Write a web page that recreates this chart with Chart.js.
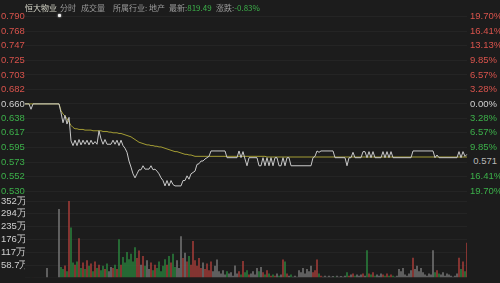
<!DOCTYPE html>
<html>
<head>
<meta charset="utf-8">
<script src="https://cdn.jsdelivr.net/npm/chart.js@4.4.1/dist/chart.umd.min.js"></script>
<style>
  html, body { margin: 0; padding: 0; background: #1c1c1c; }
  #wrap { position: relative; width: 500px; height: 283px; overflow: hidden; background: #1c1c1c; }
  .box { position: absolute; left: 0; width: 500px; }
  #priceBox { top: 0; height: 200px; }
  #volBox { top: 190px; height: 93px; }
  .hd { position: absolute; top: 2px; font: 8px "Noto Sans CJK SC", sans-serif; color: #9a9a9a; white-space: nowrap; line-height: 11px; }
  .up { color: #3cb04a; }
  #star { position: absolute; left: 58px; top: 14px; width: 3px; height: 3px; background: #f0f0f0; border-radius: 1px; box-shadow: 0 0 2px #fff; }
  #last { position: absolute; left: 470px; top: 154px; width: 30px; height: 14px; background: #1c1c1c;
          font: 9.5px "Liberation Sans", sans-serif; color: #b8b8b8; line-height: 14px; text-align: right; padding-right: 3px; box-sizing: border-box; }
</style>
</head>
<body>
<div id="wrap">
  <div class="box" id="priceBox"><canvas id="priceChart" width="500" height="200"></canvas></div>
  <div class="box" id="volBox"><canvas id="volChart" width="500" height="93"></canvas></div>
  <span class="hd" style="left:25px;color:#d6d6c8">恒大物业</span>
  <span class="hd" style="left:60px">分时</span>
  <span class="hd" style="left:81px">成交量</span>
  <span class="hd" style="left:113px">所属行业: 地产</span>
  <span class="hd" style="left:169px">最新:<span class="up">819.49</span></span>
  <span class="hd" style="left:216px">涨跌:<span class="up">-0.83%</span></span>
  <div id="star"></div>
  <div id="last">0.571</div>
</div>
<script>
const prevClose = 0.660;

const priceTicks = ['0.790', '0.768', '0.747', '0.725', '0.703', '0.682', '0.660',
  '0.638', '0.617', '0.595', '0.573', '0.552', '0.530'];
const pctTicks = ['19.70%', '16.41%', '13.13%', '9.85%', '6.57%', '3.28%', '0.00%',
  '3.28%', '6.57%', '9.85%', '13.13%', '16.41%', '19.70%'];
const volTicks = ['352万', '294万', '235万', '176万', '117万', '58.7万'];
const volTickValues = [352, 293.5, 234.8, 176.1, 117.4, 58.7];

const prices = [
  0.660, 0.660, 0.660, 0.652, 0.660, 0.660, 0.660, 0.660, 0.660, 0.660,
  0.660, 0.660, 0.660, 0.660, 0.660, 0.660, 0.660, 0.660,
  0.647, 0.632, 0.643, 0.630, 0.640, 0.605, 0.598,
  0.606, 0.598, 0.607, 0.599, 0.606, 0.600, 0.606, 0.599, 0.606, 0.600, 0.604, 0.600,
  0.620, 0.608, 0.600, 0.607, 0.600, 0.600, 0.600, 0.606, 0.600, 0.606, 0.598, 0.606, 0.598,
  0.594, 0.588, 0.575, 0.566, 0.556, 0.550, 0.556, 0.562, 0.562, 0.568,
  0.563, 0.563, 0.563, 0.568, 0.562, 0.563, 0.560, 0.556, 0.550, 0.546,
  0.538, 0.546, 0.538, 0.546, 0.540, 0.538, 0.538, 0.538, 0.538, 0.546,
  0.546, 0.553, 0.548, 0.556, 0.558, 0.560, 0.570, 0.571, 0.575, 0.575,
  0.578, 0.580, 0.582, 0.590, 0.590, 0.590, 0.590, 0.590, 0.590, 0.590,
  0.590, 0.580, 0.580, 0.580, 0.580, 0.580, 0.580, 0.590, 0.580, 0.589,
  0.578, 0.568, 0.580, 0.580, 0.580, 0.580, 0.580, 0.568, 0.568, 0.580,
  0.568, 0.580, 0.568, 0.580, 0.568, 0.580, 0.580, 0.568, 0.568, 0.580,
  0.568, 0.580, 0.580, 0.568, 0.568, 0.568, 0.568, 0.568, 0.568, 0.568,
  0.568, 0.568, 0.568, 0.568, 0.580, 0.582, 0.590, 0.588, 0.590, 0.590,
  0.590, 0.590, 0.590, 0.590, 0.590, 0.580, 0.580, 0.580, 0.580, 0.580,
  0.580, 0.568, 0.580, 0.580, 0.588, 0.580, 0.580, 0.580, 0.580, 0.589,
  0.589, 0.580, 0.589, 0.580, 0.589, 0.580, 0.580, 0.580, 0.580, 0.589,
  0.580, 0.589, 0.580, 0.589, 0.580, 0.580, 0.580, 0.580, 0.580, 0.580,
  0.580, 0.580, 0.580, 0.580, 0.590, 0.590, 0.590, 0.590, 0.590, 0.590,
  0.590, 0.590, 0.590, 0.590, 0.590, 0.580, 0.584, 0.580, 0.580, 0.580,
  0.580, 0.580, 0.580, 0.580, 0.580, 0.580, 0.580, 0.589, 0.580, 0.589,
  0.582, 0.585
];

const avgPrices = [
  0.660, 0.660, 0.660, 0.660, 0.660, 0.660, 0.660, 0.660, 0.660, 0.660,
  0.660, 0.660, 0.660, 0.660, 0.660, 0.660, 0.660, 0.660,
  0.650, 0.645, 0.642, 0.638, 0.633, 0.628, 0.625,
  0.623, 0.623, 0.622, 0.622, 0.622, 0.621, 0.621,
  0.621, 0.621, 0.620, 0.620, 0.620, 0.620,
  0.620, 0.619, 0.619, 0.619, 0.618, 0.618, 0.617, 0.617, 0.617, 0.616,
  0.616, 0.615, 0.614, 0.613, 0.612,
  0.611, 0.609, 0.607, 0.605, 0.603, 0.602, 0.601,
  0.600, 0.599, 0.599, 0.598, 0.598, 0.597, 0.597, 0.596, 0.596, 0.595,
  0.594, 0.593, 0.592, 0.591, 0.590, 0.589, 0.589, 0.588,
  0.587, 0.586, 0.585, 0.585, 0.584, 0.584, 0.583,
  0.582, 0.582, 0.582, 0.582, 0.582, 0.582, 0.582, 0.582, 0.582, 0.582,
  0.582, 0.582, 0.582, 0.582, 0.582, 0.582, 0.582, 0.582, 0.582, 0.582,
  0.582, 0.582, 0.582, 0.582, 0.582, 0.582, 0.582, 0.582, 0.582, 0.582,
  0.582, 0.582, 0.582, 0.582, 0.582, 0.582,
  0.581, 0.581, 0.581, 0.581, 0.581, 0.581, 0.581, 0.581, 0.581, 0.581,
  0.581, 0.581, 0.581, 0.581, 0.581, 0.581, 0.581, 0.581, 0.581, 0.581,
  0.581, 0.581, 0.581, 0.581, 0.581, 0.581, 0.581, 0.581, 0.581, 0.581,
  0.581, 0.581, 0.581, 0.581, 0.581, 0.581, 0.581, 0.581, 0.581, 0.581,
  0.581, 0.581, 0.581, 0.581, 0.581, 0.581, 0.581, 0.581, 0.581, 0.581,
  0.581, 0.581, 0.581, 0.581, 0.581, 0.581, 0.581, 0.581, 0.581, 0.581,
  0.581, 0.581, 0.581, 0.581, 0.581, 0.581, 0.581, 0.581, 0.581, 0.581,
  0.581, 0.581, 0.581, 0.581, 0.581, 0.581, 0.581, 0.581, 0.581, 0.581,
  0.581, 0.581, 0.581, 0.581, 0.581, 0.581, 0.581, 0.581, 0.581, 0.581,
  0.581, 0.581, 0.581, 0.581, 0.581, 0.581, 0.581, 0.581, 0.581, 0.581,
  0.581
];

// 成交量, 单位: 万
const volumes = [
  0, 0, 0, 0, 0, 0, 0, 0, 0, 0, 0,
  45,
  0, 0, 0, 0, 0,
  314, 50, 40, 56, 30, 352, 230, 70, 60, 75,
  181, 45, 70, 40, 80, 55, 65, 30, 75, 45,
  60, 35, 55, 40, 65, 30, 50, 45, 60, 40,
  176, 60, 95, 70, 118, 85, 110, 75, 140, 90,
  125, 60, 100, 55, 80, 40, 70, 35, 60, 45,
  75, 30, 55, 85, 60, 100, 70, 110, 50, 80,
  45, 190, 90, 115, 75, 100, 60, 168, 80, 55,
  90, 45, 70, 40, 65, 35, 75, 30, 55, 84,
  30, 20, 35, 15, 30, 20, 25, 10, 56, 20,
  30, 15, 77, 25, 35, 15, 20, 30, 15, 45,
  30, 50, 25, 15, 35, 20, 10, 15, 10, 20,
  10, 15, 84, 75, 20, 10, 15, 5, 10, 5,
  35, 25, 45, 20, 40, 30, 55, 25, 35, 84,
  20, 10, 5, 10, 5, 10, 5, 8, 5, 10,
  5, 8, 5, 10, 25, 10, 15, 20, 10, 15,
  10, 15, 20, 10, 126, 20, 15, 25, 10, 15,
  10, 20, 15, 10, 20, 10, 15, 10, 5, 10,
  40, 30, 45, 15, 10, 20, 35, 92, 40, 55,
  30, 45, 25, 15, 10, 20, 15, 126, 25, 35,
  20, 15, 25, 10, 20, 15, 10, 5, 10, 20,
  92, 40, 75, 30, 160
];

const RED = '#d9534c';
const GREEN = '#3cb04a';
const WHITE = '#cfcfcf';
const GRID = '#242424';
const tickFont = { family: '"Liberation Sans", sans-serif', size: 9.5 };

const labels = prices.map((_, i) => i);
const priceTickValues = priceTicks.map(Number);

function priceColor(ctx) {
  const v = ctx.tick.value;
  if (v > prevClose + 0.0001) return RED;
  if (v < prevClose - 0.0001) return GREEN;
  return WHITE;
}

function setPriceTicks(scale) {
  scale.ticks = priceTickValues.slice().reverse().map(v => ({ value: v }));
}

new Chart(document.getElementById('priceChart').getContext('2d'), {
  type: 'line',
  data: {
    labels: labels,
    datasets: [
      { data: avgPrices, borderColor: '#a39c34', borderWidth: 1, pointRadius: 0, tension: 0, order: 2 },
      { data: prices, borderColor: '#c9c9c9', borderWidth: 1, pointRadius: 0, tension: 0, order: 1 }
    ]
  },
  options: {
    responsive: false,
    animation: false,
    events: [],
    layout: { padding: { left: 1, right: 0, top: 16.5, bottom: 6.7 } },
    plugins: { legend: { display: false }, tooltip: { enabled: false } },
    scales: {
      x: { display: false, offset: false },
      y: {
        position: 'left', min: 0.530, max: 0.790,
        afterFit(s) { s.width = 24; },
        afterBuildTicks: setPriceTicks,
        ticks: {
          autoSkip: false, crossAlign: 'far', padding: 0, font: tickFont, color: priceColor,
          callback: v => priceTicks[priceTickValues.indexOf(v)]
        },
        grid: { color: GRID, drawTicks: false },
        border: { display: false }
      },
      yr: {
        position: 'right', min: 0.530, max: 0.790,
        afterFit(s) { s.width = 33; },
        afterBuildTicks: setPriceTicks,
        ticks: {
          autoSkip: false, padding: 3, font: tickFont, color: priceColor,
          callback: v => pctTicks[priceTickValues.indexOf(v)]
        },
        grid: { display: false, drawTicks: false },
        border: { display: false }
      }
    }
  }
});

// 量柱颜色按价格涨跌
const volColors = prices.map((p, i) => {
  const prev = i === 0 ? prevClose : prices[i - 1];
  if (p > prev) return '#9a3a37';
  if (p < prev) return '#2a7a3a';
  return '#6e6e6e';
});

new Chart(document.getElementById('volChart').getContext('2d'), {
  type: 'bar',
  data: {
    labels: labels,
    datasets: [{ data: volumes, backgroundColor: volColors, barThickness: 1 }]
  },
  options: {
    responsive: false,
    animation: false,
    events: [],
    layout: { padding: { left: 1, right: 33, top: 11, bottom: 0 } },
    plugins: { legend: { display: false }, tooltip: { enabled: false } },
    scales: {
      x: { display: false, offset: false },
      y: {
        position: 'left', min: 4, max: 352,
        afterFit(s) { s.width = 24; },
        afterBuildTicks(s) { s.ticks = volTickValues.slice().reverse().map(v => ({ value: v })); },
        ticks: {
          autoSkip: false, crossAlign: 'far', padding: 0, font: tickFont, color: WHITE,
          callback: v => volTicks[volTickValues.indexOf(v)]
        },
        grid: { color: GRID, drawTicks: false },
        border: { display: false }
      }
    }
  }
});
</script>
</body>
</html>
